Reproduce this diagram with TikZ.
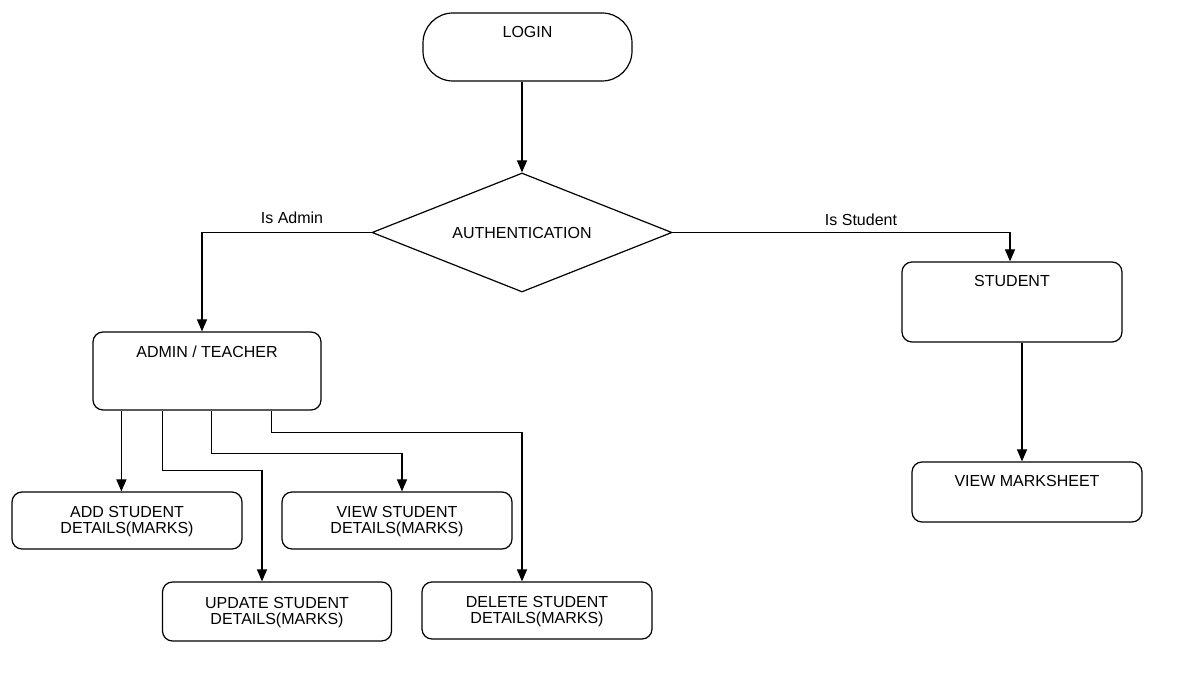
\documentclass[tikz,border=0pt]{standalone}
\usepackage{fontspec}
\setmainfont{Liberation Sans}
\usetikzlibrary{shapes.geometric,arrows.meta}
\begin{document}
\begin{tikzpicture}[x=1pt,y=-1pt,
  box/.style={draw, line width=1.2pt, rounded corners=10pt, inner sep=0pt},
  txt/.style={font=\fontsize{16}{16}\selectfont, align=center, inner sep=0pt},
  arr/.style={line width=1.2pt, -{Triangle[length=12pt,width=10pt]}},
  edge/.style={font=\fontsize{16}{16}\selectfont, inner sep=0pt}
]
\fill[white] (0,0) rectangle (1192,692);
\useasboundingbox (0,0) rectangle (1192,692);

% entry point and authentication decision
\node[box, rounded corners=30pt, minimum width=209pt, minimum height=68pt] (login) at (527.5,47) {};
\node[txt] (logint) at ([yshift=-20pt]login.north) {LOGIN};
\node[draw, line width=1.2pt, diamond, inner sep=0pt, minimum width=300pt, minimum height=119pt] (auth) at (522,232.5) {};
\node[txt] (autht) at (auth.center) {AUTHENTICATION};

% role boxes
\node[box, minimum width=228pt, minimum height=78pt] (admin) at (207,371) {};
\node[txt] (admint) at ([yshift=-20pt]admin.north) {ADMIN / TEACHER};
\node[box, minimum width=220pt, minimum height=80pt] (student) at (1012,302) {};
\node[txt] (studentt) at ([yshift=-20pt]student.north) {STUDENT};
\node[box, minimum width=230pt, minimum height=60pt] (mark) at (1027,492) {};
\node[txt] (markt) at ([yshift=-20pt]mark.north) {VIEW MARKSHEET};

% admin actions
\node[box, minimum width=230pt, minimum height=57pt] (add) at (127,520.5) {};
\node[txt] (addt) at ([yshift=-1pt]add.center) {ADD STUDENT\\DETAILS(MARKS)};
\node[box, minimum width=230pt, minimum height=57pt] (view) at (397,520.5) {};
\node[txt] (viewt) at ([yshift=-1pt]view.center) {VIEW STUDENT\\DETAILS(MARKS)};
\node[box, minimum width=229pt, minimum height=59pt] (upd) at (277,611.5) {};
\node[txt] (updt) at ([yshift=-1pt]upd.center) {UPDATE STUDENT\\DETAILS(MARKS)};
\node[box, minimum width=230pt, minimum height=57pt] (del) at (537,610.5) {};
\node[txt] (delt) at ([yshift=-1pt]del.center) {DELETE STUDENT\\DETAILS(MARKS)};

% connectors
\draw[arr] (auth.north |- login.south) -- (auth.north);
\draw[arr] (auth.west) -| ([xshift=-5pt]admin.north);
\node[edge] (isadmin) at (292,218) {Is Admin};
\draw[arr] (auth.east) -| ([xshift=-2pt]student.north);
\node[edge] (isstudent) at (861,220) {Is Student};
\draw[arr] ([xshift=10pt]student.south) -- ([xshift=-5pt]mark.north);

\coordinate (t1) at ([xshift=29pt]admin.south west);
\coordinate (t2) at ([xshift=70pt]admin.south west);
\coordinate (t3) at ([xshift=119pt]admin.south west);
\coordinate (t4) at ([xshift=179pt]admin.south west);
\draw[arr] (t1) -- (t1 |- add.north);
\draw[arr] (t2) -- ++(0,60) -| ([xshift=-15pt]upd.north);
\draw[arr] (t3) -- ++(0,43) -| ([xshift=5pt]view.north);
\draw[arr] (t4) -- ++(0,22) -| ([xshift=-15pt]del.north);
\end{tikzpicture}
\end{document}
